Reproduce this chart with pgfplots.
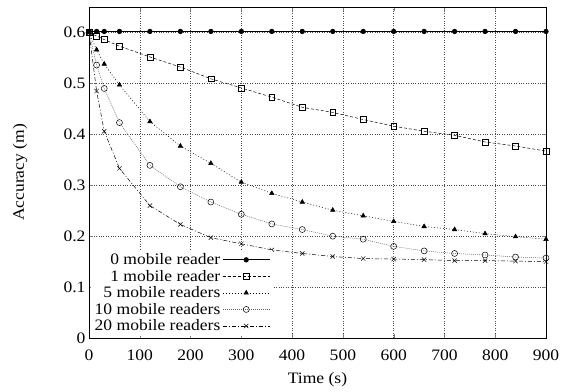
\documentclass[border=0pt]{standalone}
\usepackage{fontspec}
\setmainfont{Liberation Serif}[FakeStretch=1.1]
\usepackage{pgfplots}
\pgfplotsset{compat=1.18}
\begin{document}
\begin{tikzpicture}
\useasboundingbox (-89bp,-54bp) rectangle (472bp,338bp);
\begin{axis}[at={(0,0)}, anchor=south west, scale only axis,
  width=457bp, height=331bp,
  xmin=0, xmax=900, ymin=0, ymax=0.65,
  xtick={0,100,...,900}, ytick={0,0.1,0.2,0.3,0.4,0.5,0.6},
  /pgf/number format/assume math mode=true,
  yticklabel style={/pgf/number format/fixed, /pgf/number format/precision=1},
  xticklabel style={yshift=-8bp},
  grid=major, grid style={black!70, dash pattern=on 0.6bp off 1.8bp, line width=0.5pt},
  tick align=inside, major tick length=4bp,
  axis line style={line width=0.9pt},
  font=\fontsize{16}{19}\selectfont,
  xlabel={Time (s)}, ylabel={Accuracy (m)},
  xlabel style={at={(axis description cs:0.5,-0.127)}, anchor=center},
  ylabel style={at={(axis description cs:-0.151,0.5)}, anchor=center},
  legend style={at={(axis cs:3,0.003)}, anchor=south west, draw=none, fill=white,
    font=\fontsize{16}{17}\selectfont, row sep=0bp, inner sep=2bp, cells={anchor=east}},
  legend plot pos=right,
  legend image code/.code={\draw[mark repeat=2,mark phase=2] plot coordinates {(0bp,0bp) (23.5bp,0bp) (47bp,0bp)};},
  every axis plot/.append style={line width=0.5pt},
]
\addplot[black, solid, line width=0.8pt, mark=*, mark size=2.2bp] coordinates {
(0,0.602)(15,0.602)(30,0.602)(60,0.602)(120,0.602)(180,0.602)(240,0.602)(300,0.602)(360,0.602)(420,0.602)(480,0.602)(540,0.602)(600,0.602)(660,0.602)(720,0.602)(780,0.602)(840,0.602)(900,0.602)};
\addlegendentry{0 mobile reader}
\addplot[black, dash pattern=on 3bp off 2bp, mark=square, mark size=2.9bp, mark options={solid}] coordinates {
(0,0.6)(15,0.593)(30,0.586)(60,0.573)(120,0.552)(180,0.532)(240,0.509)(300,0.491)(360,0.473)(420,0.453)(480,0.443)(540,0.429)(600,0.416)(660,0.406)(720,0.398)(780,0.385)(840,0.377)(900,0.367)};
\addlegendentry{1 mobile reader}
\addplot[black, dash pattern=on 1bp off 2bp, mark=triangle*, mark size=2.6bp, mark options={solid}] coordinates {
(0,0.6)(15,0.566)(30,0.538)(60,0.497)(120,0.425)(180,0.377)(240,0.343)(300,0.306)(360,0.284)(420,0.267)(480,0.251)(540,0.24)(600,0.229)(660,0.219)(720,0.213)(780,0.205)(840,0.199)(900,0.194)};
\addlegendentry{5 mobile readers}
\addplot[black!60, dash pattern=on 1bp off 1bp, mark=o, mark size=3bp, mark options={solid, draw=black}] coordinates {
(0,0.6)(15,0.536)(30,0.49)(60,0.423)(120,0.339)(180,0.297)(240,0.267)(300,0.243)(360,0.224)(420,0.213)(480,0.2)(540,0.194)(600,0.18)(660,0.171)(720,0.166)(780,0.163)(840,0.159)(900,0.157)};
\addlegendentry{10 mobile readers}
\addplot[black, dash pattern=on 4bp off 2bp on 1bp off 2bp, mark=x, mark size=3bp, mark options={solid}] coordinates {
(0,0.6)(15,0.485)(30,0.406)(60,0.333)(120,0.26)(180,0.223)(240,0.197)(300,0.185)(360,0.173)(420,0.166)(480,0.16)(540,0.156)(600,0.155)(660,0.154)(720,0.152)(780,0.152)(840,0.151)(900,0.15)};
\addlegendentry{20 mobile readers}
\end{axis}
\end{tikzpicture}
\end{document}
